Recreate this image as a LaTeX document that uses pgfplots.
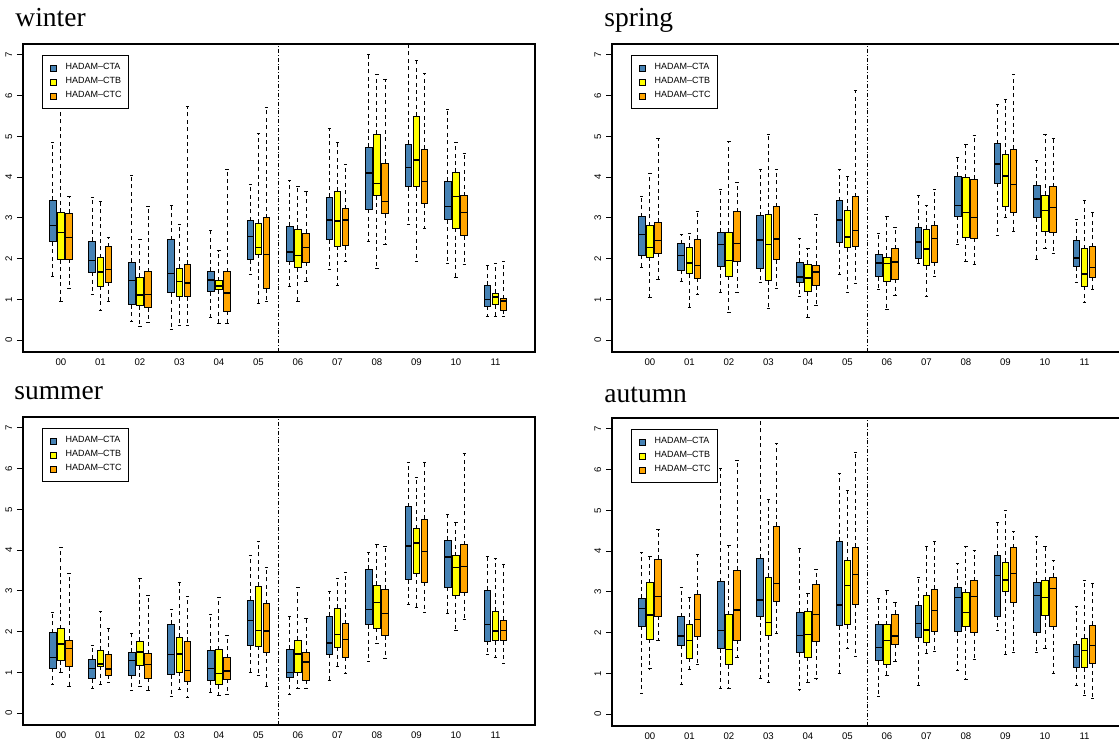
\documentclass[border=0pt]{standalone}
\usepackage{pgfplots}
\pgfplotsset{compat=1.18}
\usepgfplotslibrary{statistics}
\usepackage{fontspec}
\setmainfont{Liberation Sans}
\newfontfamily\serifT{Liberation Serif}
\definecolor{cA}{RGB}{70,130,180}
\definecolor{cB}{RGB}{255,255,0}
\definecolor{cC}{RGB}{255,165,0}

\pgfplotsset{
  boxplot/draw/lower whisker/.code={%
    \draw[line width=0.5pt, dash pattern=on 2pt off 1.7pt] (boxplot box cs:\pgfplotsboxplotvalue{lower quartile},0.5) -- (boxplot box cs:\pgfplotsboxplotvalue{lower whisker},0.5);
    \draw[line width=0.5pt, solid] (boxplot whisker cs:\pgfplotsboxplotvalue{lower whisker},0) -- (boxplot whisker cs:\pgfplotsboxplotvalue{lower whisker},1);
  },
  boxplot/draw/upper whisker/.code={%
    \draw[line width=0.5pt, dash pattern=on 2pt off 1.7pt] (boxplot box cs:\pgfplotsboxplotvalue{upper quartile},0.5) -- (boxplot box cs:\pgfplotsboxplotvalue{upper whisker},0.5);
    \draw[line width=0.5pt, solid] (boxplot whisker cs:\pgfplotsboxplotvalue{upper whisker},0) -- (boxplot whisker cs:\pgfplotsboxplotvalue{upper whisker},1);
  },
  boxplot/draw/median/.code={%
    \draw[line width=0.7pt, solid] (boxplot box cs:\pgfplotsboxplotvalue{median},0) -- (boxplot box cs:\pgfplotsboxplotvalue{median},1);
  },
  legend image code/.code={\draw[#1, draw=black, line width=0.4pt] (0pt,-1.5pt) rectangle (3pt,1.5pt);},
  panel/.style={
    scale only axis, width=256pt, height=154pt, anchor=north west,
    xmin=-0.96, xmax=12, ymin=-0.29, ymax=7.27,
    xtick={0,1,2,3,4,5,6,7,8,9,10,11},
    xticklabels={00,01,02,03,04,05,06,07,08,09,10,11},
    ytick={0,1,2,3,4,5,6,7}, yticklabels={0,1,2,3,4,5,6,7},
    xtick pos=bottom, ytick pos=left,
    tick align=outside, major tick length=3pt,
    xtick style={draw=none},
    ytick style={black, line width=0.5pt},
    tick label style={font=\fontsize{4.8}{5.5}\selectfont, inner sep=0pt},
    yticklabel style={rotate=90, anchor=south},
    xticklabel style={anchor=north},
    xticklabel shift=0.3pt, yticklabel shift=2.2pt,
    axis line style={line width=0.8pt},
    boxplot/draw direction=y,
    boxplot/box extend=0.17, boxplot/whisker extend=0.08,
    legend cell align=left,
    legend style={at={(0.0371,0.964)}, anchor=north west, draw=black, line width=0.4pt, fill=white,
      font=\fontsize{4.5}{5}\selectfont, inner xsep=3.6pt, inner ysep=3.9pt, row sep=2.4pt,
      nodes={inner sep=0pt}, /tikz/every odd column/.append style={column sep=4.6pt}},
  },
}
% args: category, lower whisker, lower quartile, median, upper quartile, upper whisker
\newcommand{\bA}[6]{\addplot[forget plot, draw=black, boxplot prepared={draw direction=y, draw position={#1-0.205}, lower whisker=#2, lower quartile=#3, median=#4, upper quartile=#5, upper whisker=#6, every box/.style={fill=cA, line width=0.5pt}}] coordinates {};}
\newcommand{\bB}[6]{\addplot[forget plot, draw=black, boxplot prepared={draw direction=y, draw position={#1}, lower whisker=#2, lower quartile=#3, median=#4, upper quartile=#5, upper whisker=#6, every box/.style={fill=cB, line width=0.5pt}}] coordinates {};}
\newcommand{\bC}[6]{\addplot[forget plot, draw=black, boxplot prepared={draw direction=y, draw position={#1+0.205}, lower whisker=#2, lower quartile=#3, median=#4, upper quartile=#5, upper whisker=#6, every box/.style={fill=cC, line width=0.5pt}}] coordinates {};}
\newcommand{\sepline}{\addplot[forget plot, black, line width=0.4pt, dash pattern=on 2pt off 1pt on 0.4pt off 1pt] coordinates {(5.5,-0.29) (5.5,7.27)};}
\newcommand{\legs}{%
  \addlegendimage{fill=cA}\addlegendentry{HADAM--CTA}
  \addlegendimage{fill=cB}\addlegendentry{HADAM--CTB}
  \addlegendimage{fill=cC}\addlegendentry{HADAM--CTC}}
\tikzset{ttl/.style={anchor=base west, inner sep=0pt, font=\serifT\fontsize{13.75}{16}\selectfont}}

\begin{document}
\begin{tikzpicture}
\path[use as bounding box] (0,0) rectangle (559.5pt,-371pt);
% ---------------- winter
\begin{axis}[panel, at={(11.5pt,-22pt)}]
\sepline
\bA{0}{1.57}{2.41}{2.82}{3.43}{4.85} \bB{0}{0.95}{1.97}{2.65}{3.14}{5.98} \bC{0}{1.27}{1.99}{2.52}{3.12}{3.53}
\bA{1}{1.12}{1.67}{1.95}{2.43}{3.51} \bB{1}{0.72}{1.32}{1.67}{2.02}{3.41} \bC{1}{0.95}{1.42}{1.74}{2.29}{2.51}
\bA{2}{0.47}{0.87}{1.47}{1.91}{4.04} \bB{2}{0.33}{0.85}{1.11}{1.54}{2.48} \bC{2}{0.43}{0.79}{1.12}{1.68}{3.28}
\bA{3}{0.27}{1.16}{1.64}{2.47}{3.31} \bB{3}{0.35}{1.07}{1.44}{1.77}{2.85} \bC{3}{0.35}{1.07}{1.40}{1.86}{5.74}
\bA{4}{0.56}{1.19}{1.48}{1.69}{2.69} \bB{4}{0.40}{1.24}{1.33}{1.46}{2.19} \bC{4}{0.41}{0.71}{1.16}{1.68}{4.19}
\bA{5}{1.62}{1.97}{2.55}{2.93}{3.81} \bB{5}{0.91}{2.11}{2.28}{2.87}{5.07} \bC{5}{0.96}{1.26}{2.10}{3.00}{5.71}
\bA{6}{1.32}{1.94}{2.16}{2.80}{3.93} \bB{6}{0.96}{1.78}{2.08}{2.72}{3.77} \bC{6}{1.45}{1.91}{2.28}{2.63}{3.66}
\bA{7}{1.74}{2.46}{2.95}{3.51}{5.19} \bB{7}{1.34}{2.31}{2.93}{3.65}{4.84} \bC{7}{1.94}{2.32}{2.95}{3.22}{4.30}
\bA{8}{2.42}{3.21}{4.10}{4.73}{7.00} \bB{8}{1.75}{3.55}{3.84}{5.05}{6.53} \bC{8}{2.36}{3.10}{3.40}{4.34}{6.40}
\bA{9}{2.83}{3.76}{4.24}{4.81}{7.60} \bB{9}{1.94}{3.76}{4.42}{5.50}{6.86} \bC{9}{2.75}{3.35}{3.90}{4.69}{6.55}
\bA{10}{1.87}{2.95}{3.28}{3.90}{5.67} \bB{10}{1.55}{2.75}{3.52}{4.12}{4.86} \bC{10}{1.86}{2.56}{3.14}{3.54}{4.59}
\bA{11}{0.57}{0.83}{1.00}{1.35}{1.83} \bB{11}{0.57}{0.87}{1.06}{1.15}{1.89} \bC{11}{0.57}{0.73}{0.96}{1.02}{1.92}
\legs
\end{axis}
\node[ttl] at (7.5pt,-13.5pt) {winter};
% ---------------- spring
\begin{axis}[panel, at={(306pt,-22pt)}]
\sepline
\bA{0}{1.79}{2.08}{2.60}{3.03}{3.52} \bB{0}{1.05}{2.04}{2.28}{2.81}{4.08} \bC{0}{1.50}{2.13}{2.45}{2.89}{4.94}
\bA{1}{1.44}{1.72}{2.08}{2.37}{2.60} \bB{1}{0.81}{1.63}{1.89}{2.28}{2.63} \bC{1}{1.13}{1.52}{1.84}{2.48}{3.15}
\bA{2}{1.18}{1.81}{2.35}{2.65}{3.69} \bB{2}{0.67}{1.57}{1.96}{2.65}{4.88} \bC{2}{1.18}{1.92}{2.38}{3.15}{3.86}
\bA{3}{1.41}{1.76}{2.46}{3.05}{4.18} \bB{3}{0.78}{1.46}{2.35}{3.09}{5.04} \bC{3}{1.28}{1.98}{2.48}{3.28}{4.18}
\bA{4}{1.08}{1.41}{1.55}{1.91}{2.49} \bB{4}{0.56}{1.19}{1.53}{1.86}{2.24} \bC{4}{0.84}{1.34}{1.67}{1.84}{3.08}
\bA{5}{1.62}{2.39}{2.95}{3.42}{4.19} \bB{5}{1.18}{2.27}{2.53}{3.19}{4.01} \bC{5}{1.39}{2.31}{2.69}{3.52}{6.14}
\bA{6}{1.25}{1.56}{1.89}{2.11}{2.63} \bB{6}{0.76}{1.44}{1.88}{2.04}{3.03} \bC{6}{1.09}{1.49}{1.92}{2.24}{2.76}
\bA{7}{1.88}{2.00}{2.41}{2.77}{3.55} \bB{7}{1.06}{1.83}{2.24}{2.72}{3.31} \bC{7}{1.56}{1.91}{2.50}{2.82}{3.69}
\bA{8}{2.36}{3.04}{3.30}{4.02}{4.48} \bB{8}{1.94}{2.53}{3.13}{3.99}{4.81} \bC{8}{1.86}{2.50}{3.01}{3.95}{5.02}
\bA{9}{2.56}{3.85}{4.32}{4.82}{5.78} \bB{9}{3.02}{3.28}{4.03}{4.56}{5.90} \bC{9}{2.67}{3.14}{3.82}{4.69}{6.53}
\bA{10}{1.97}{3.01}{3.47}{3.80}{4.40} \bB{10}{2.24}{2.66}{3.19}{3.56}{5.06} \bC{10}{2.13}{2.65}{3.26}{3.76}{4.95}
\bA{11}{1.42}{1.80}{2.02}{2.45}{2.96} \bB{11}{0.93}{1.32}{1.62}{2.25}{3.43} \bC{11}{1.24}{1.54}{1.79}{2.29}{3.13}
\legs
\end{axis}
\node[ttl] at (302pt,-13.5pt) {spring};
% ---------------- summer
\begin{axis}[panel, at={(11.5pt,-208.5pt)}]
\sepline
\bA{0}{0.71}{1.10}{1.37}{1.98}{2.47} \bB{0}{0.99}{1.29}{1.70}{2.07}{4.06} \bC{0}{0.65}{1.14}{1.59}{1.79}{3.43}
\bA{1}{0.60}{0.85}{1.09}{1.33}{1.65} \bB{1}{0.71}{1.15}{1.21}{1.54}{2.50} \bC{1}{0.76}{0.93}{1.08}{1.44}{2.09}
\bA{2}{0.56}{0.93}{1.30}{1.50}{1.96} \bB{2}{0.66}{1.17}{1.50}{1.77}{3.31} \bC{2}{0.55}{0.86}{1.19}{1.46}{2.89}
\bA{3}{0.41}{0.94}{1.44}{2.18}{2.54} \bB{3}{0.58}{1.01}{1.45}{1.86}{3.20} \bC{3}{0.39}{0.79}{1.05}{1.76}{2.87}
\bA{4}{0.52}{0.80}{1.10}{1.54}{2.42} \bB{4}{0.43}{0.70}{0.97}{1.56}{2.84} \bC{4}{0.46}{0.83}{1.04}{1.36}{1.90}
\bA{5}{1.00}{1.66}{2.28}{2.77}{3.88} \bB{5}{0.93}{1.64}{2.03}{3.12}{4.21} \bC{5}{0.66}{1.50}{2.02}{2.69}{3.58}
\bA{6}{0.47}{0.87}{1.00}{1.57}{2.38} \bB{6}{0.60}{1.00}{1.45}{1.79}{3.09} \bC{6}{0.61}{0.81}{1.26}{1.48}{2.33}
\bA{7}{0.80}{1.45}{1.72}{2.38}{2.99} \bB{7}{1.15}{1.62}{1.93}{2.57}{3.31} \bC{7}{0.97}{1.37}{1.81}{2.19}{3.46}
\bA{8}{1.27}{2.17}{2.54}{3.53}{3.95} \bB{8}{1.70}{2.08}{2.72}{3.14}{4.14} \bC{8}{1.35}{1.90}{2.45}{3.04}{4.09}
\bA{9}{2.68}{3.28}{4.10}{5.07}{6.15} \bB{9}{2.60}{3.44}{4.18}{4.53}{5.78} \bC{9}{2.48}{3.21}{3.97}{4.76}{6.15}
\bA{10}{2.45}{3.09}{3.83}{4.24}{4.87} \bB{10}{2.04}{2.89}{3.57}{3.86}{4.67} \bC{10}{2.30}{2.97}{3.60}{4.13}{6.38}
\bA{11}{1.43}{1.77}{2.18}{3.02}{3.84} \bB{11}{1.36}{1.78}{2.02}{2.50}{3.80} \bC{11}{1.21}{1.78}{2.03}{2.28}{3.65}
\legs
\end{axis}
\node[ttl] at (7pt,-200pt) {summer};
% ---------------- autumn
\begin{axis}[panel, at={(306pt,-209pt)}]
\sepline
\bA{0}{0.51}{2.16}{2.60}{2.84}{3.98} \bB{0}{1.11}{1.84}{2.43}{3.23}{3.88} \bC{0}{1.82}{2.41}{2.89}{3.80}{4.53}
\bA{1}{0.72}{1.69}{1.92}{2.39}{3.12} \bB{1}{1.09}{1.37}{1.81}{2.21}{2.87} \bC{1}{1.23}{1.91}{2.33}{2.94}{3.93}
\bA{2}{0.64}{1.61}{2.06}{3.25}{6.03} \bB{2}{0.63}{1.21}{1.59}{2.44}{4.14} \bC{2}{1.40}{1.82}{2.56}{3.53}{6.22}
\bA{3}{0.87}{2.41}{2.80}{3.83}{7.25} \bB{3}{0.78}{1.93}{2.25}{3.36}{5.26} \bC{3}{1.98}{2.76}{3.21}{4.61}{6.64}
\bA{4}{0.60}{1.51}{1.93}{2.50}{4.06} \bB{4}{0.77}{1.40}{1.96}{2.52}{2.97} \bC{4}{0.87}{1.78}{2.45}{3.19}{3.55}
\bA{5}{0.99}{2.17}{2.68}{4.24}{5.90} \bB{5}{1.61}{2.20}{3.16}{3.77}{5.50} \bC{5}{1.42}{2.70}{3.43}{4.10}{6.42}
\bA{6}{0.43}{1.31}{1.64}{2.19}{2.84} \bB{6}{0.96}{1.23}{1.81}{2.19}{3.03} \bC{6}{1.29}{1.72}{1.92}{2.45}{2.75}
\bA{7}{0.70}{1.88}{2.22}{2.67}{3.35} \bB{7}{1.49}{1.77}{2.07}{2.91}{4.12} \bC{7}{1.53}{2.04}{2.54}{3.07}{4.23}
\bA{8}{1.08}{2.02}{2.86}{3.11}{3.69} \bB{8}{0.84}{2.15}{2.50}{2.98}{4.12} \bC{8}{1.35}{2.01}{2.89}{3.27}{4.01}
\bA{9}{2.05}{2.41}{3.41}{3.90}{4.70} \bB{9}{1.47}{3.00}{3.29}{3.73}{5.01} \bC{9}{1.51}{2.74}{3.46}{4.09}{4.49}
\bA{10}{1.51}{2.01}{2.92}{3.24}{4.35} \bB{10}{1.61}{2.42}{2.87}{3.28}{4.12} \bC{10}{1.01}{2.16}{3.09}{3.36}{3.77}
\bA{11}{0.70}{1.14}{1.42}{1.71}{2.65} \bB{11}{0.47}{1.14}{1.56}{1.86}{3.29} \bC{11}{0.38}{1.24}{1.69}{2.18}{3.21}
\legs
\end{axis}
\node[ttl] at (302pt,-201.5pt) {autumn};
\end{tikzpicture}
\end{document}
